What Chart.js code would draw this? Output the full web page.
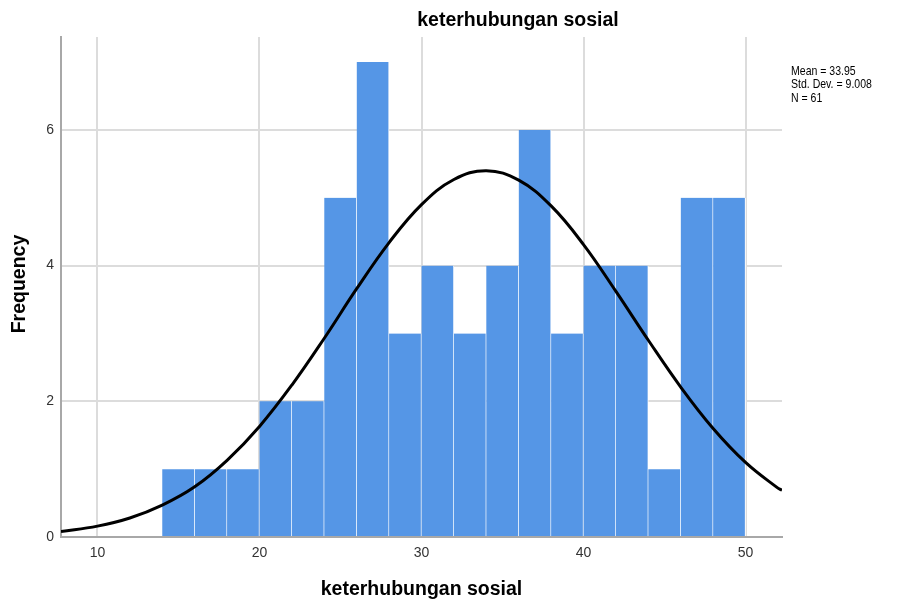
<!DOCTYPE html>
<html>
<head>
<meta charset="utf-8">
<script src="https://cdn.jsdelivr.net/npm/chart.js@4.4.1/dist/chart.umd.min.js"></script>
<style>
  html, body { margin: 0; padding: 0; background: #fff; }
  #wrap { width: 899px; height: 603px; position: relative; }
</style>
</head>
<body>
<div id="wrap"><canvas id="histChart" width="899" height="603"></canvas></div>
<script>
    // bin centres (bin width 2) and counts
    const binCenters = [15, 17, 19, 21, 23, 25, 27, 29, 31, 33, 35, 37, 39, 41, 43, 45, 47, 49];
    const binCounts = [1, 1, 1, 2, 2, 5, 7, 3, 4, 3, 4, 6, 3, 4, 4, 1, 5, 5];

    // normal curve
    const curveX = [7.75, 10, 12, 14, 16, 18, 20, 22, 24, 26, 28, 30, 32, 34, 36, 38, 40, 42, 44, 46, 48, 50, 52, 52.25];
    const curveY = [0.08, 0.16, 0.28, 0.47, 0.74, 1.13, 1.63, 2.24, 2.93, 3.66, 4.34, 4.9, 5.27, 5.4, 5.26, 4.88, 4.31, 3.62, 2.9, 2.21, 1.6, 1.1, 0.72, 0.69];

    const xTicks = [10, 20, 30, 40, 50];
    const yTicks = [0, 2, 4, 6];

    const statLines = ['Mean = 33.95', 'Std. Dev. = 9.008', 'N = 61'];
    const titleText = 'keterhubungan sosial';
    const xTitle = 'keterhubungan sosial';
    const yTitle = 'Frequency';

    const textPlugin = {
        id: 'texts',
        afterDraw(chart) {
            const ctx = chart.ctx;
            const area = chart.chartArea;
            ctx.save();
            ctx.fillStyle = '#000';
            ctx.textBaseline = 'middle';
            ctx.textAlign = 'center';
            ctx.font = 'bold 19.5px "Liberation Sans", Arial, sans-serif';
            ctx.fillText(titleText, 518, 21);
            ctx.fillText(xTitle, (area.left + area.right) / 2, 590);
            ctx.translate(20, 284);
            ctx.rotate(-Math.PI / 2);
            ctx.fillText(yTitle, 0, 0);
            ctx.restore();

            // narrow-looking stats box text
            ctx.save();
            ctx.fillStyle = '#000';
            ctx.font = '13px "Liberation Sans", Arial, sans-serif';
            ctx.textAlign = 'left';
            ctx.textBaseline = 'middle';
            ctx.translate(791, 0);
            ctx.scale(0.81, 1);
            statLines.forEach((s, i) => ctx.fillText(s, 0, 71 + i * 13.5));
            ctx.restore();
        }
    };

    const ctx = document.getElementById('histChart').getContext('2d');
    const histChart = new Chart(ctx, {
        data: {
            datasets: [
                {
                    type: 'line',
                    data: curveX.map((x, i) => ({ x: x, y: curveY[i] })),
                    borderColor: '#000',
                    borderWidth: 3,
                    pointRadius: 0,
                    tension: 0.4,
                    fill: false,
                    order: 0
                },
                {
                    type: 'bar',
                    data: binCenters.map((x, i) => ({ x: x, y: binCounts[i] })),
                    backgroundColor: '#5596e6',
                    borderColor: '#ffffff',
                    borderWidth: { top: 0, left: 0, right: 1, bottom: 0 },
                    borderSkipped: false,
                    barPercentage: 1,
                    categoryPercentage: 1,
                    grouped: false,
                    order: 1
                }
            ]
        },
        options: {
            responsive: false,
            animation: false,
            layout: { padding: { top: 37, right: 117, left: 0, bottom: 0 } },
            plugins: {
                legend: { display: false },
                tooltip: { enabled: false }
            },
            scales: {
                x: {
                    type: 'linear',
                    min: 7.75,
                    max: 52.25,
                    offset: false,
                    afterBuildTicks: s => { s.ticks = xTicks.map(v => ({ value: v })); },
                    afterFit: s => { s.height = 66; },
                    grid: { color: '#dcdcdc', lineWidth: 2, drawTicks: false, offset: false },
                    border: { color: '#a8a8a8', width: 2 },
                    ticks: {
                        color: '#333',
                        font: { size: 14, family: '"Liberation Sans", Arial, sans-serif' },
                        padding: 8
                    }
                },
                y: {
                    min: 0,
                    max: 7.37,
                    afterBuildTicks: s => { s.ticks = yTicks.map(v => ({ value: v })); },
                    afterFit: s => { s.width = 61; },
                    grid: { color: '#dcdcdc', lineWidth: 2, drawTicks: false },
                    border: { color: '#a8a8a8', width: 2 },
                    ticks: {
                        color: '#333',
                        font: { size: 14, family: '"Liberation Sans", Arial, sans-serif' },
                        padding: 7
                    }
                }
            }
        },
        plugins: [textPlugin]
    });
</script>
</body>
</html>
